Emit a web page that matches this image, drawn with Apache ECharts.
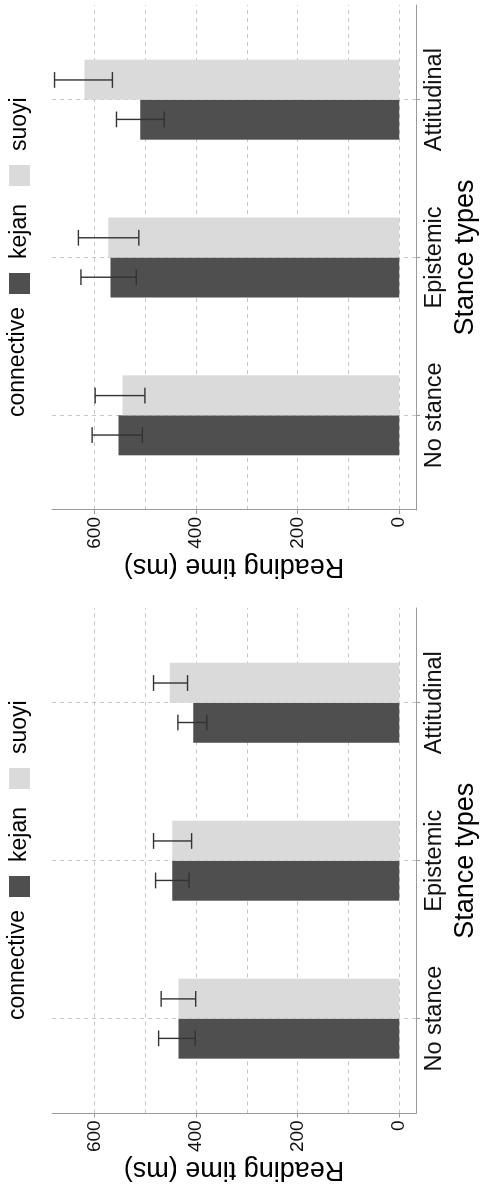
<!DOCTYPE html>
<html>
<head>
<meta charset="utf-8">
<script src="https://cdn.jsdelivr.net/npm/echarts@6/dist/echarts.min.js"></script>
<style>
  html, body { margin: 0; padding: 0; background: #fff; overflow: hidden; width: 484px; height: 1184px; }
  #wrap { position: absolute; left: 0; top: 0; width: 1184px; height: 484px;
          transform-origin: 0 0; transform: translate(0px, 1184px) rotate(-90deg); }
</style>
</head>
<body>
<div id="wrap"></div>
<script>
// ---- data ----
const categories = ['No stance', 'Epistemic', 'Attitudinal'];
const legendTitle = 'connective';
const seriesNames = ['kejan', 'suoyi'];
const valueTicks = [0, 200, 400, 600];
const gridValues = [0, 100, 200, 300, 400, 500, 600];
const valueMin = -33;
const valueMax = 684;

// left panel (experiment 1)
const kejanA = [435, 447, 406];
const kejanALow = [402, 414, 379];
const kejanAHigh = [474, 480, 436];
const suoyiA = [435, 447, 452];
const suoyiALow = [401, 409, 417];
const suoyiAHigh = [469, 484, 484];

// right panel (experiment 2)
const kejanB = [553, 569, 510];
const kejanBLow = [506, 518, 463];
const kejanBHigh = [605, 627, 557];
const suoyiB = [545, 573, 620];
const suoyiBLow = [501, 513, 565];
const suoyiBHigh = [599, 632, 679];

// ---- chart ----
const FONT = '"Liberation Sans", Arial, Helvetica, sans-serif';
const DARK = '#4f4f4f';
const LIGHT = '#dadada';
const AXIS = '#9a9a9a';
const GRIDC = '#c6c6c6';
const catPos = categories.map((c, i) => i + 1);

const panels = [
  { grid: { left: 69, width: 507, top: 52, height: 369 }, legendLeft: 287, titleLeft: 164,
    kejan: kejanA, kLo: kejanALow, kHi: kejanAHigh, suoyi: suoyiA, sLo: suoyiALow, sHi: suoyiAHigh },
  { grid: { left: 674, width: 505, top: 52, height: 369 }, legendLeft: 890, titleLeft: 767,
    kejan: kejanB, kLo: kejanBLow, kHi: kejanBHigh, suoyi: suoyiB, sLo: suoyiBLow, sHi: suoyiBHigh }
];

function errRender(shift) {
  return function (params, api) {
    const x = api.value(0), lo = api.value(1), hi = api.value(2);
    const cw = 0.05;
    const pLo = api.coord([x + shift, lo]);
    const pHi = api.coord([x + shift, hi]);
    const lL = api.coord([x + shift - cw, lo]), lR = api.coord([x + shift + cw, lo]);
    const hL = api.coord([x + shift - cw, hi]), hR = api.coord([x + shift + cw, hi]);
    const st = { stroke: '#333', lineWidth: 1.4 };
    return { type: 'group', children: [
      { type: 'line', shape: { x1: pLo[0], y1: pLo[1], x2: pHi[0], y2: pHi[1] }, style: st },
      { type: 'line', shape: { x1: lL[0], y1: lL[1], x2: lR[0], y2: lR[1] }, style: st },
      { type: 'line', shape: { x1: hL[0], y1: hL[1], x2: hR[0], y2: hR[1] }, style: st }
    ]};
  };
}

const grid = [], xAxis = [], yAxis = [], series = [], legend = [], title = [];
panels.forEach((p, i) => {
  grid.push(p.grid);
  xAxis.push({
    type: 'value', gridIndex: i, min: 0.4, max: 3.6,
    axisLine: { show: true, onZero: false, lineStyle: { color: AXIS, width: 1 } },
    axisTick: { show: true, customValues: catPos, length: 4, lineStyle: { color: AXIS } },
    axisLabel: { customValues: catPos, formatter: v => categories[Math.round(v) - 1],
                 fontSize: 23.5, color: '#111', margin: 7 },
    splitLine: { show: true, lineStyle: { type: [4, 4], color: GRIDC, width: 1 } },
    name: 'Stance types', nameLocation: 'middle', nameGap: 36,
    nameTextStyle: { fontSize: 27, color: '#000' }
  });
  yAxis.push({
    type: 'value', gridIndex: i, min: valueMin, max: valueMax,
    axisLine: { show: true, onZero: false, lineStyle: { color: AXIS, width: 1 } },
    axisTick: { show: true, customValues: valueTicks, length: 4, lineStyle: { color: AXIS } },
    axisLabel: { customValues: valueTicks, fontSize: 19, color: '#111', margin: 7 },
    splitLine: { show: false },
    name: 'Reading time (ms)', nameLocation: 'middle', nameGap: 37,
    nameTextStyle: { fontSize: 27, color: '#000' }
  });
  yAxis.push({
    type: 'value', gridIndex: i, min: valueMin, max: valueMax, position: 'left',
    axisLine: { show: false }, axisLabel: { show: false },
    axisTick: { show: false, customValues: gridValues },
    splitLine: { show: true, lineStyle: { type: [4, 4], color: GRIDC, width: 1 } }
  });
  series.push({
    type: 'bar', name: seriesNames[0], xAxisIndex: i, yAxisIndex: 2 * i,
    data: catPos.map((x, j) => [x, p.kejan[j]]), barWidth: 40, barGap: '0%',
    itemStyle: { color: DARK }
  });
  series.push({
    type: 'bar', name: seriesNames[1], xAxisIndex: i, yAxisIndex: 2 * i,
    data: catPos.map((x, j) => [x, p.suoyi[j]]), barWidth: 40, barGap: '0%',
    itemStyle: { color: LIGHT }
  });
  series.push({
    type: 'custom', name: 'err-k-' + i, xAxisIndex: i, yAxisIndex: 2 * i, z: 5, silent: true,
    data: catPos.map((x, j) => [x, p.kLo[j], p.kHi[j]]), renderItem: errRender(-0.125)
  });
  series.push({
    type: 'custom', name: 'err-s-' + i, xAxisIndex: i, yAxisIndex: 2 * i, z: 5, silent: true,
    data: catPos.map((x, j) => [x, p.sLo[j], p.sHi[j]]), renderItem: errRender(0.125)
  });
  legend.push({
    data: seriesNames, left: p.legendLeft, top: 8, orient: 'horizontal', padding: 0,
    itemWidth: 21, itemHeight: 21, itemGap: 18, icon: 'rect', selectedMode: false,
    textStyle: { fontSize: 23, color: '#000', padding: [0, 0, 0, 9] }
  });
  title.push({
    text: legendTitle, left: p.titleLeft, top: 6, padding: 0,
    textStyle: { fontSize: 23, fontWeight: 'normal', color: '#000' }
  });
});

const chart = echarts.init(document.getElementById('wrap'), null, { renderer: 'canvas' });
chart.setOption({
  animation: false,
  backgroundColor: '#fff',
  textStyle: { fontFamily: FONT },
  title, legend, grid, xAxis, yAxis, series
});
</script>
</body>
</html>
